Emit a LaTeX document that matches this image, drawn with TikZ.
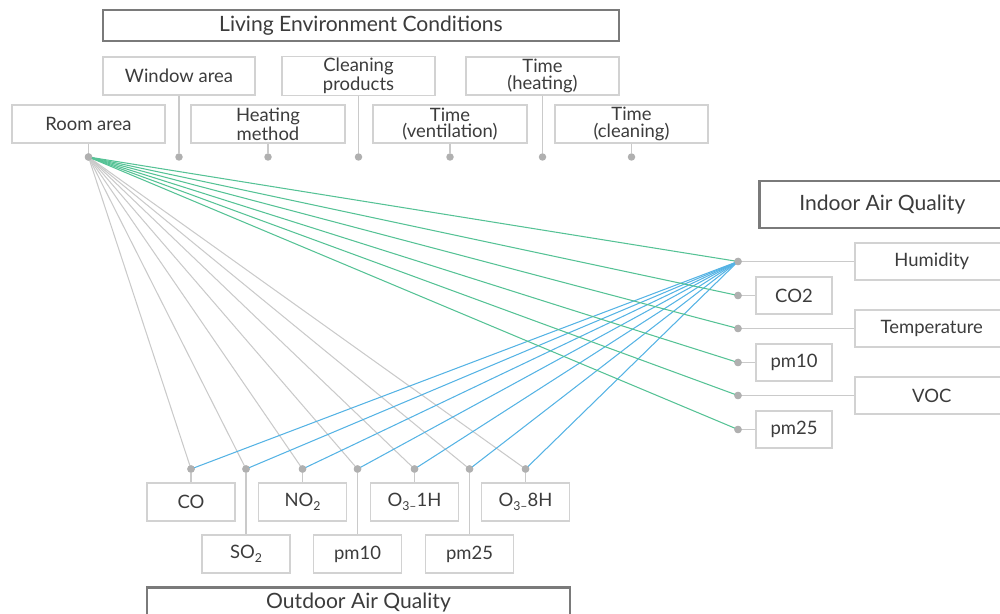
\documentclass[tikz,border=0pt]{standalone}
\usepackage{fontspec}
\setmainfont{Lato}
\usepackage{tikz}
\usetikzlibrary{calc}
\definecolor{envGreen}{HTML}{55C295}
\definecolor{airBlue}{HTML}{55B3E4}
\definecolor{linkGray}{HTML}{CACACA}
\definecolor{dotGray}{HTML}{B0B0B0}
\definecolor{frameGray}{HTML}{D2D2D2}
\definecolor{titleGray}{HTML}{7A7A7A}
\definecolor{inkGray}{HTML}{3C3C3C}
\newcommand{\chemsub}[1]{\raisebox{-0.45ex}{\scriptsize #1}}
\tikzset{
  factor/.style={draw=frameGray,line width=0.9pt,fill=white,text=inkGray,
    align=center,inner sep=1pt,minimum height=0.76cm,font=\fontsize{10.5}{9.4}\selectfont},
  titlebox/.style={draw=titleGray,line width=1.5pt,fill=white,text=inkGray,
    inner sep=1pt,font=\fontsize{12}{13}\selectfont},
  dot/.style={circle,fill=dotGray,inner sep=0pt,minimum size=0.15cm},
  stem/.style={draw=linkGray,line width=0.8pt},
  roomlink/.style={draw=linkGray,line width=0.6pt},
  indoorlink/.style={draw=envGreen,line width=0.6pt},
  outdoorlink/.style={draw=airBlue,line width=0.6pt}
}

\begin{document}
\begin{tikzpicture}[x=0.02cm,y=-0.02cm]
  \useasboundingbox (0,0) rectangle (1000,614);

  % living environment
  \node[titlebox, minimum width=10.32cm, minimum height=0.62cm] (livenv) at (361,25.5) {Living Environment Conditions};
  \node[factor, minimum width=3.04cm] (window) at (179,76) {Window area};
  \node[factor, minimum width=3.06cm] (cleaning) at (358.5,76) {Cleaning\\products};
  \node[factor, minimum width=3.06cm] (timeheat) at (542.5,76) {Time\\(heating)};
  \node[factor, minimum width=3.06cm] (room) at (88.5,124) {Room area};
  \node[factor, minimum width=3.08cm] (heatmeth) at (268,124) {Heating\\method};
  \node[factor, minimum width=3.08cm] (timevent) at (450,124) {Time\\(ventilation)};
  \node[factor, minimum width=3.06cm] (timeclean) at (631.5,124) {Time\\(cleaning)};

  \foreach \n in {room,window,heatmeth,cleaning,timevent,timeheat,timeclean}{
    \node[dot] (d-\n) at (\n.south |- 0,157) {};
    \draw[stem] (\n) -- (d-\n);
  }

  % indoor air quality
  \node[titlebox, anchor=west, minimum width=4.92cm, minimum height=0.94cm] (indoor) at (758,204.5) {Indoor Air Quality};
  \node[factor, anchor=west, minimum width=3.08cm, minimum height=0.74cm] (humidity) at (854,261.5) {Humidity};
  \node[factor, minimum width=1.52cm, minimum height=0.74cm] (inco2) at (794,295.5) {CO2};
  \node[factor, anchor=west, minimum width=3.08cm, minimum height=0.74cm] (temperature) at (854,328.5) {Temperature};
  \node[factor, minimum width=1.52cm, minimum height=0.74cm] (inpm10) at (794,362.5) {pm10};
  \node[factor, anchor=west, minimum width=3.08cm, minimum height=0.74cm] (voc) at (854,395.5) {VOC};
  \node[factor, minimum width=1.52cm, minimum height=0.74cm] (inpm25) at (794,429.5) {pm25};

  \foreach \n in {humidity,inco2,temperature,inpm10,voc,inpm25}{
    \node[dot] (d-\n) at (738,0 |- \n.west) {};
    \draw[stem] (d-\n) -- (\n);
  }

  % outdoor air quality
  \node[factor, minimum width=1.76cm] (co) at (191,502) {CO};
  \node[factor, minimum width=1.76cm] (so2) at (246,554) {SO\chemsub{2}};
  \node[factor, minimum width=1.76cm] (no2) at (302.5,502) {NO\chemsub{2}};
  \node[factor, minimum width=1.76cm] (outpm10) at (357.5,554) {pm10};
  \node[factor, minimum width=1.76cm] (o3a) at (414.5,502) {O\chemsub{3–}1H};
  \node[factor, minimum width=1.76cm] (outpm25) at (469.5,554) {pm25};
  \node[factor, minimum width=1.76cm] (o3b) at (525.5,502) {O\chemsub{3–}8H};
  \node[titlebox, minimum width=8.46cm, minimum height=0.62cm] (outdoor) at (358.5,603) {Outdoor Air Quality};

  \foreach \n in {co,so2,no2,outpm10,o3a,outpm25,o3b}{
    \node[dot] (d-\n) at (\n.north |- 0,469) {};
    \draw[stem] (d-\n) -- (\n);
  }

  % links
  \foreach \n in {co,so2,no2,outpm10,o3a,outpm25,o3b}{
    \draw[roomlink] (d-room.center) -- (d-\n.center);
  }
  \foreach \n in {co,so2,no2,outpm10,o3a,outpm25,o3b}{
    \draw[outdoorlink] (d-humidity.center) -- (d-\n.center);
  }
  \foreach \n in {humidity,inco2,temperature,inpm10,voc,inpm25}{
    \draw[indoorlink] (d-room.center) -- (d-\n.center);
  }

  % dots on top
  \foreach \n in {room,humidity,inco2,temperature,inpm10,voc,inpm25,co,so2,no2,outpm10,o3a,outpm25,o3b}{
    \fill[dotGray] (d-\n) circle (0.075cm);
  }
\end{tikzpicture}
\end{document}
